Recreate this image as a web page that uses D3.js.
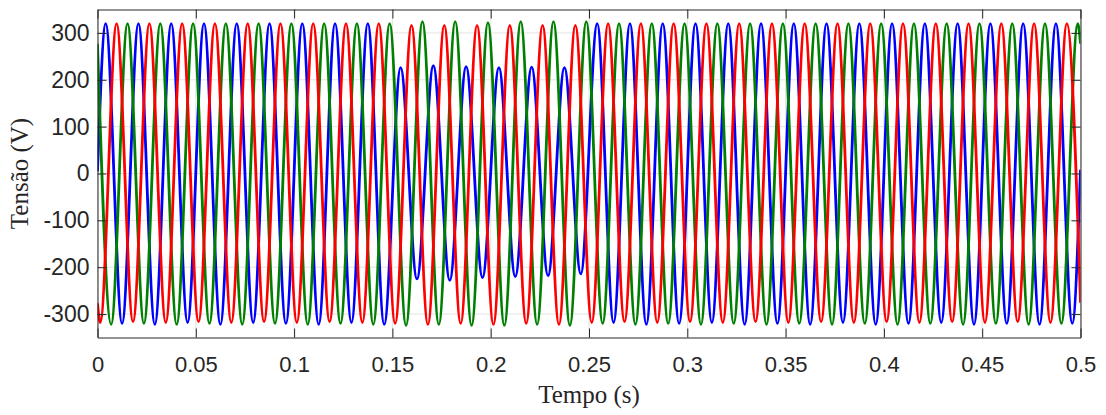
<!DOCTYPE html>
<html>
<head>
<meta charset="utf-8">
<script src="https://cdn.jsdelivr.net/npm/d3@7"></script>
<style>
  html, body { margin: 0; padding: 0; background: #ffffff; }
  svg { display: block; }
</style>
</head>
<body>
<svg id="chart" width="1106" height="415"></svg>
<script>
// ---------------- data ----------------
const xTicks = [0, 0.05, 0.1, 0.15, 0.2, 0.25, 0.3, 0.35, 0.4, 0.45, 0.5];
const xTickLabels = ["0", "0.05", "0.1", "0.15", "0.2", "0.25", "0.3", "0.35", "0.4", "0.45", "0.5"];
const yTicks = [-300, -200, -100, 0, 100, 200, 300];
const yTickLabels = ["-300", "-200", "-100", "0", "100", "200", "300"];
const xTitle = "Tempo (s)";
const yTitle = "Tensão (V)";

// Phase B (blue): times of successive peaks / troughs and their values
const blueT = [0, 0.00417, 0.0125, 0.02083, 0.02917, 0.0375, 0.04583, 0.05417, 0.0625, 0.07083, 0.07917,
  0.0875, 0.09583, 0.10417, 0.1125, 0.12083, 0.12917, 0.1375, 0.14583, 0.15417, 0.1625,
  0.17083, 0.17917, 0.1875, 0.19583, 0.20417, 0.2125, 0.22083, 0.22917, 0.2375, 0.24583,
  0.25417, 0.2625, 0.27083, 0.27917, 0.2875, 0.29583, 0.30417, 0.3125, 0.32083, 0.32917,
  0.3375, 0.34583, 0.35417, 0.3625, 0.37083, 0.37917, 0.3875, 0.39583, 0.40417, 0.4125,
  0.42083, 0.42917, 0.4375, 0.44583, 0.45417, 0.4625, 0.47083, 0.47917, 0.4875, 0.49583, 0.5];
const blueV = [5, 320, -320, 320, -322, 320, -318, 320, -322, 320, -318,
  320, -320, 320, -322, 320, -318, 320, -322, 226, -225,
  230, -228, 228, -222, 226, -220, 227, -218, 226, -214,
  320, -318, 320, -322, 320, -320, 320, -318, 320, -322,
  320, -320, 320, -322, 320, -318, 320, -322, 320, -320,
  320, -318, 320, -322, 320, -320, 320, -322, 320, -320, 8];

// Phase A (red)
const redT = [0, 0.00139, 0.00972, 0.01806, 0.02639, 0.03472, 0.04306, 0.05139, 0.05972, 0.06806, 0.07639,
  0.08472, 0.09306, 0.10139, 0.10972, 0.11806, 0.12639, 0.13472, 0.14306, 0.15139, 0.15972,
  0.16806, 0.17639, 0.18472, 0.19306, 0.20139, 0.20972, 0.21806, 0.22639, 0.23472, 0.24306,
  0.25139, 0.25972, 0.26806, 0.27639, 0.28472, 0.29306, 0.30139, 0.30972, 0.31806, 0.32639,
  0.33472, 0.34306, 0.35139, 0.35972, 0.36806, 0.37639, 0.38472, 0.39306, 0.40139, 0.40972,
  0.41806, 0.42639, 0.43472, 0.44306, 0.45139, 0.45972, 0.46806, 0.47639, 0.48472, 0.49306, 0.5];
const redV = [-277, -318, 320, -316, 320, -318, 320, -316, 320, -318, 320,
  -316, 320, -318, 320, -316, 320, -318, 320, -320, 316,
  -322, 316, -320, 316, -322, 316, -320, 316, -322, 316,
  -318, 320, -316, 320, -318, 320, -316, 320, -318, 320,
  -316, 320, -318, 320, -316, 320, -318, 320, -316, 320,
  -318, 320, -316, 320, -318, 320, -316, 320, -318, 320, -276];

// Phase C (green)
const greenT = [0, 0.00694, 0.01528, 0.02361, 0.03194, 0.04028, 0.04861, 0.05694, 0.06528, 0.07361, 0.08194,
  0.09028, 0.09861, 0.10694, 0.11528, 0.12361, 0.13194, 0.14028, 0.14861, 0.15694, 0.16528,
  0.17361, 0.18194, 0.19028, 0.19861, 0.20694, 0.21528, 0.22361, 0.23194, 0.24028, 0.24861,
  0.25694, 0.26528, 0.27361, 0.28194, 0.29028, 0.29861, 0.30694, 0.31528, 0.32361, 0.33194,
  0.34028, 0.34861, 0.35694, 0.36528, 0.37361, 0.38194, 0.39028, 0.39861, 0.40694, 0.41528,
  0.42361, 0.43194, 0.44028, 0.44861, 0.45694, 0.46528, 0.47361, 0.48194, 0.49028, 0.49861, 0.5];
const greenV = [277, -322, 320, -320, 320, -322, 320, -320, 320, -322, 320,
  -320, 320, -322, 320, -320, 320, -322, 320, -324, 324,
  -322, 324, -324, 322, -324, 324, -322, 324, -324, 324,
  -320, 320, -322, 320, -320, 320, -322, 320, -320, 320,
  -322, 320, -320, 320, -322, 320, -320, 320, -322, 320,
  -320, 320, -322, 320, -320, 320, -322, 320, -320, 320, 277];

const seriesList = [
  { name: "B", t: blueT, v: blueV, color: "#0000ff" },
  { name: "C", t: greenT, v: greenV, color: "#008000" },
  { name: "A", t: redT, v: redV, color: "#ff0000" }
];

// ---------------- drawing ----------------
const svg = d3.select("#chart");
const L = 97.5, R = 1080.5, T = 9.5, B = 337.5;
const textColor = "#262626";

const x = d3.scaleLinear().domain([0, 0.5]).range([L, R]);
const y = d3.scaleLinear().domain([-350, 350]).range([B, T]);

// grid
const grid = svg.append("g").attr("class", "grid");
grid.selectAll("line.gx").data(xTicks).enter().append("line")
  .attr("x1", d => x(d)).attr("x2", d => x(d)).attr("y1", T).attr("y2", B)
  .attr("stroke", "#e3e3e3").attr("stroke-width", 1);
grid.selectAll("line.gy").data(yTicks).enter().append("line")
  .attr("x1", L).attr("x2", R).attr("y1", d => y(d)).attr("y2", d => y(d))
  .attr("stroke", "#e3e3e3").attr("stroke-width", 1);

// clip
svg.append("clipPath").attr("id", "plotclip").append("rect")
  .attr("x", L).attr("y", T).attr("width", R - L).attr("height", B - T);

const line = d3.line()
  .x(d => x(d[0]))
  .y(d => y(d[1]))
  .curve(d3.curveMonotoneX);

const plot = svg.append("g").attr("clip-path", "url(#plotclip)");
seriesList.forEach(s => {
  const pts = s.t.map((t, i) => [t, s.v[i]]);
  plot.append("path")
    .datum(pts)
    .attr("d", line)
    .attr("fill", "none")
    .attr("stroke", s.color)
    .attr("stroke-width", 2.8)
    .attr("stroke-linejoin", "round");
});

// axes
function styleAxis(g, size) {
  g.selectAll(".domain").attr("stroke", textColor).attr("stroke-width", 1);
  g.selectAll(".tick line").attr("stroke", textColor).attr("stroke-width", 1);
  g.selectAll(".tick text").attr("fill", textColor)
    .style("font-family", "'Liberation Sans', Arial, sans-serif")
    .style("font-size", size + "px");
}

const xAxis = d3.axisBottom(x).tickValues(xTicks)
  .tickFormat((d, i) => xTickLabels[i]).tickSizeInner(-9).tickSizeOuter(0).tickPadding(19);
svg.append("g").attr("transform", `translate(0,${B})`).call(xAxis).call(styleAxis, 22);

const xAxisTop = d3.axisTop(x).tickValues(xTicks).tickFormat("").tickSizeInner(-9).tickSizeOuter(0);
svg.append("g").attr("transform", `translate(0,${T})`).call(xAxisTop).call(styleAxis, 22);

const yAxis = d3.axisLeft(y).tickValues(yTicks)
  .tickFormat((d, i) => yTickLabels[i]).tickSizeInner(-9).tickSizeOuter(0).tickPadding(8);
svg.append("g").attr("transform", `translate(${L},0)`).call(yAxis).call(styleAxis, 23);

const yAxisRight = d3.axisRight(y).tickValues(yTicks).tickFormat("").tickSizeInner(-9).tickSizeOuter(0);
svg.append("g").attr("transform", `translate(${R},0)`).call(yAxisRight).call(styleAxis, 22);

// titles
svg.append("text")
  .attr("x", (L + R) / 2).attr("y", 403)
  .attr("text-anchor", "middle")
  .attr("fill", textColor)
  .style("font-family", "'Liberation Serif', 'Times New Roman', serif")
  .style("font-size", "25px")
  .text(xTitle);

svg.append("text")
  .attr("transform", `translate(28,${(T + B) / 2}) rotate(-90)`)
  .attr("text-anchor", "middle")
  .attr("fill", textColor)
  .style("font-family", "'Liberation Serif', 'Times New Roman', serif")
  .style("font-size", "25px")
  .text(yTitle);
</script>
</body>
</html>
